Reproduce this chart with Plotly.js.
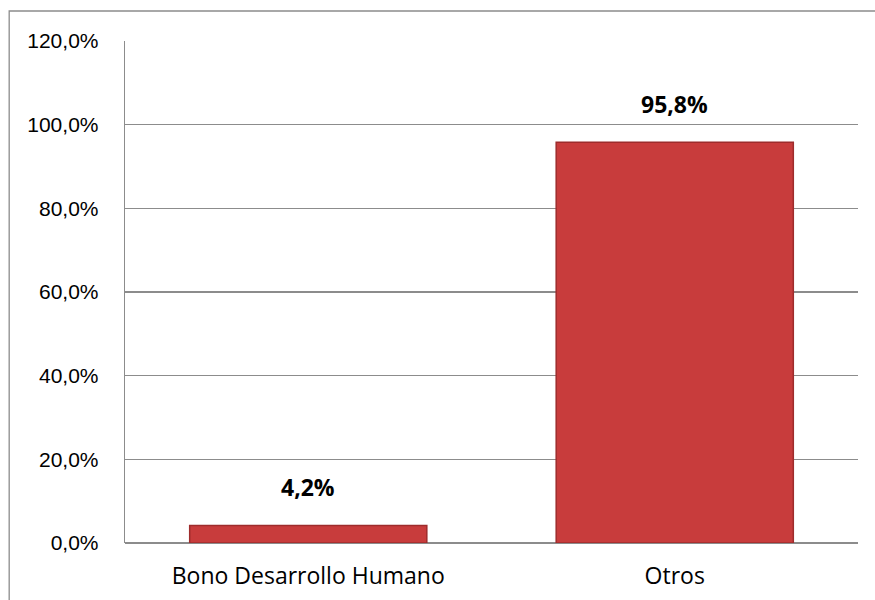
<!DOCTYPE html>
<html><head><meta charset="utf-8">
<script src="https://cdn.plot.ly/plotly-3.0.1.min.js"></script>
<style>body{margin:0}#c{width:875px;height:600px}</style>
</head><body><div id="c"></div>
<script>
const categories = ["Bono Desarrollo Humano", "Otros"];
const values = [4.2, 95.8];
const labels = ["4,2%", "95,8%"];
const tickVals = [0, 20, 40, 60, 80, 100, 120];
const tickText = ["0,0%", "20,0%", "40,0%", "60,0%", "80,0%", "100,0%", "120,0%"];

const trace = {
  type: 'bar', x: categories, y: values,
  marker: {color: '#C83C3C', line: {color: '#9E2C2C', width: 1.5}},
  hoverinfo: 'none'
};
const annotations = categories.map((c, i) => ({
  x: c, y: values[i], xref: 'x', yref: 'y', text: '<b>' + labels[i] + '</b>',
  showarrow: false, yanchor: 'middle', yshift: 38,
  font: {family: '"Open Sans", sans-serif', size: 23, color: '#000'}
}));
const layout = {
  width: 875, height: 600,
  margin: {l: 125, r: 17, t: 41, b: 57},
  paper_bgcolor: '#fff', plot_bgcolor: '#fff',
  bargap: 0.353,
  showlegend: false,
  xaxis: {
    showgrid: false, showline: false, zeroline: false, ticks: '',
    tickfont: {family: '"Open Sans", sans-serif', size: 23, color: '#000'},
    ticklabelstandoff: 17
  },
  yaxis: {
    range: [0, 120], tickmode: 'array', tickvals: tickVals, ticktext: tickText,
    showgrid: true, gridcolor: '#8c8c8c', gridwidth: 1.3,
    showline: true, linecolor: '#8c8c8c', linewidth: 1.3,
    zeroline: true, zerolinecolor: '#8c8c8c', zerolinewidth: 1.3,
    ticks: '', ticklabelstandoff: 21,
    tickfont: {family: '"Liberation Sans", Arial, sans-serif', size: 21, color: '#000'}
  },
  annotations: annotations,
  shapes: [{
    type: 'rect', xref: 'paper', yref: 'paper',
    x0: -0.158, x1: 1.2, y0: -0.3, y1: 1.0598,
    line: {color: '#8c8c8c', width: 1.3}, fillcolor: 'rgba(0,0,0,0)', layer: 'below'
  }]
};
Plotly.newPlot('c', [trace], layout, {staticPlot: true});
</script></body></html>
